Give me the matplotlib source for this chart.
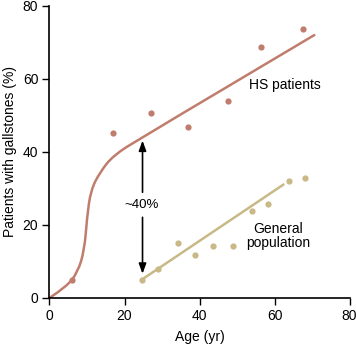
import matplotlib.pyplot as plt
from matplotlib.path import Path
import matplotlib.patches as mpatches

plt.rcParams['font.family'] = ['Liberation Sans', 'DejaVu Sans']

# HS patients: observed points
hs_age = [6, 17, 27, 37, 47.5, 56.5, 67.5]
hs_pct = [5, 45.3, 50.6, 46.8, 53.9, 68.6, 73.7]
# control polygon of the fitted S-shaped curve
hs_curve_x = [0, 4.5, 7.5, 9.3, 10.0, 11.0, 13.5, 17.0, 24.0, 70.6]
hs_curve_y = [0, 3.0, 7.0, 13.0, 22.0, 29.5, 34.5, 39.0, 43.6, 72.0]

# general population
gen_age = [24.6, 29, 34.3, 38.8, 43.7, 49, 53.9, 58.3, 63.9, 68.2]
gen_pct = [5, 8, 15, 11.7, 14.1, 14.1, 23.7, 25.6, 32.1, 32.9]
gen_line_x = [24.6, 62.3]
gen_line_y = [5, 31]

hs_col = '#c07d6e'
gen_col = '#c8b987'

fig = plt.figure(figsize=(3.56, 3.44), dpi=100)
ax = fig.add_axes([0.139, 0.134, 0.843, 0.849])

# quadratic B-spline through the control polygon
pts = list(zip(hs_curve_x, hs_curve_y))
verts = [pts[0]]
codes = [Path.MOVETO]
for i in range(1, len(pts) - 1):
    if i < len(pts) - 2:
        end = ((pts[i][0] + pts[i + 1][0]) / 2, (pts[i][1] + pts[i + 1][1]) / 2)
    else:
        end = pts[i + 1]
    verts += [pts[i], end]
    codes += [Path.CURVE3, Path.CURVE3]
ax.add_patch(mpatches.PathPatch(Path(verts, codes), fill=False,
                                edgecolor=hs_col, lw=1.8, capstyle='round'))
ax.plot(hs_age, hs_pct, 'o', color=hs_col, ms=4.5, mec='none')

ax.plot(gen_line_x, gen_line_y, color=gen_col, lw=1.8)
ax.plot(gen_age, gen_pct, 'o', color=gen_col, ms=4.5, mec='none')

# double arrow with label
for tip in (43.1, 6.6):
    ax.annotate('', xy=(24.8, tip), xytext=(24.8, 25.5),
                arrowprops=dict(arrowstyle='-|>,head_length=0.6,head_width=0.22',
                                color='black', lw=1.2, shrinkA=9, shrinkB=0))
ax.text(24.6, 25.5, '~40%', ha='center', va='center', fontsize=9.5)

ax.text(53.2, 58.4, 'HS patients', ha='left', va='center', fontsize=10)
ax.text(61, 17, 'General\npopulation', ha='center', va='center', fontsize=10,
        linespacing=1.0)

ax.set_xlim(0, 80)
ax.set_ylim(0, 80)
ax.set_xticks([0, 20, 40, 60, 80])
ax.set_yticks([0, 20, 40, 60, 80])
ax.spines['top'].set_visible(False)
ax.spines['right'].set_visible(False)
ax.spines['left'].set_linewidth(1.2)
ax.spines['bottom'].set_linewidth(1.2)
ax.tick_params(direction='out', length=5, width=1, labelsize=10, pad=3)
ax.set_xlabel('Age (yr)', fontsize=10, labelpad=5)
ax.set_ylabel('Patients with gallstones (%)', fontsize=10, labelpad=4)

fig.savefig('out.png', dpi=100)
